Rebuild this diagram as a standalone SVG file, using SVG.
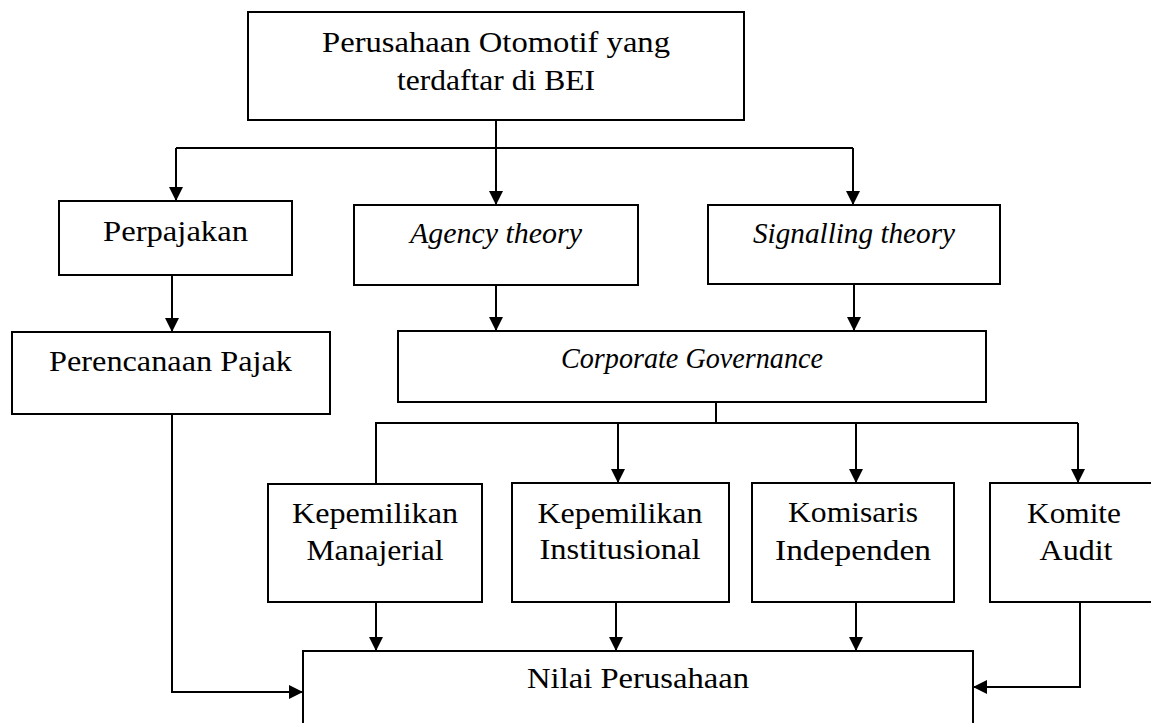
<svg xmlns="http://www.w3.org/2000/svg" width="1151" height="723" viewBox="0 0 1151 723">
<style>
.box{fill:#fff;stroke:#000;stroke-width:2}
.t{font-family:"Liberation Serif","Times New Roman",serif;font-size:29px;fill:#000;text-anchor:middle}
.i{font-style:italic}
.c{fill:none;stroke:#000;stroke-width:2}
</style>
<defs>
<marker id="ah" markerUnits="userSpaceOnUse" markerWidth="15" markerHeight="15" refX="14" refY="7" orient="auto">
<path d="M0,0 L14,7 L0,14 z" fill="#000"/>
</marker>
</defs>
<rect width="1151" height="723" fill="#fff"/>
<g id="connectors">
<path class="c" d="M496,120 V205" marker-end="url(#ah)"/>
<path class="c" d="M176,148 H853"/>
<path class="c" d="M176,148 V201" marker-end="url(#ah)"/>
<path class="c" d="M853,148 V205" marker-end="url(#ah)"/>
<path class="c" d="M172,275 V332" marker-end="url(#ah)"/>
<path class="c" d="M496,285 V331" marker-end="url(#ah)"/>
<path class="c" d="M854,284 V331" marker-end="url(#ah)"/>
<path class="c" d="M716,402 V423"/>
<path class="c" d="M376,484 V423 H1078"/>
<path class="c" d="M618,423 V483" marker-end="url(#ah)"/>
<path class="c" d="M856,423 V483" marker-end="url(#ah)"/>
<path class="c" d="M1078,423 V483" marker-end="url(#ah)"/>
<path class="c" d="M376,602 V651" marker-end="url(#ah)"/>
<path class="c" d="M616,602 V651" marker-end="url(#ah)"/>
<path class="c" d="M856,602 V651" marker-end="url(#ah)"/>
<path class="c" d="M172,414 V692 H303" marker-end="url(#ah)"/>
<path class="c" d="M1080,602 V687 H973" marker-end="url(#ah)"/>
</g>
<g id="n-top">
<rect class="box" x="248" y="12" width="496" height="108"/>
<text class="t" x="496" y="52" textLength="348" lengthAdjust="spacingAndGlyphs">Perusahaan Otomotif yang</text>
<text class="t" x="496" y="90" textLength="198" lengthAdjust="spacingAndGlyphs">terdaftar di BEI</text>
</g>
<g id="n-perpajakan">
<rect class="box" x="59" y="201" width="233" height="74"/>
<text class="t" x="175.5" y="241" textLength="145" lengthAdjust="spacingAndGlyphs">Perpajakan</text>
</g>
<g id="n-perencanaan">
<rect class="box" x="12" y="332" width="318" height="82"/>
<text class="t" x="170.5" y="371" textLength="243" lengthAdjust="spacingAndGlyphs">Perencanaan Pajak</text>
</g>
<g id="n-agency">
<rect class="box" x="354" y="205" width="284" height="80"/>
<text class="t i" x="496" y="243" textLength="172" lengthAdjust="spacingAndGlyphs">Agency theory</text>
</g>
<g id="n-signalling">
<rect class="box" x="708" y="205" width="292" height="79"/>
<text class="t i" x="854" y="243" textLength="202" lengthAdjust="spacingAndGlyphs">Signalling theory</text>
</g>
<g id="n-cg">
<rect class="box" x="398" y="331" width="588" height="71"/>
<text class="t i" x="692" y="368" textLength="262" lengthAdjust="spacingAndGlyphs">Corporate Governance</text>
</g>
<g id="n-kepman">
<rect class="box" x="268" y="484" width="214" height="118"/>
<text class="t" x="375" y="523" textLength="166" lengthAdjust="spacingAndGlyphs">Kepemilikan</text>
<text class="t" x="375" y="560" textLength="137" lengthAdjust="spacingAndGlyphs">Manajerial</text>
</g>
<g id="n-kepinst">
<rect class="box" x="512" y="483" width="217" height="119"/>
<text class="t" x="620" y="523" textLength="165" lengthAdjust="spacingAndGlyphs">Kepemilikan</text>
<text class="t" x="620" y="559" textLength="161" lengthAdjust="spacingAndGlyphs">Institusional</text>
</g>
<g id="n-komisaris">
<rect class="box" x="752" y="483" width="202" height="119"/>
<text class="t" x="853" y="522" textLength="130" lengthAdjust="spacingAndGlyphs">Komisaris</text>
<text class="t" x="853" y="560" textLength="156" lengthAdjust="spacingAndGlyphs">Independen</text>
</g>
<g id="n-komite">
<rect class="box" x="990" y="483" width="176" height="119"/>
<text class="t" x="1074" y="523" textLength="94" lengthAdjust="spacingAndGlyphs">Komite</text>
<text class="t" x="1076" y="560" textLength="73" lengthAdjust="spacingAndGlyphs">Audit</text>
</g>
<g id="n-nilai">
<rect class="box" x="303" y="651" width="670" height="90"/>
<text class="t" x="638" y="688" textLength="222" lengthAdjust="spacingAndGlyphs">Nilai Perusahaan</text>
</g>
</svg>
